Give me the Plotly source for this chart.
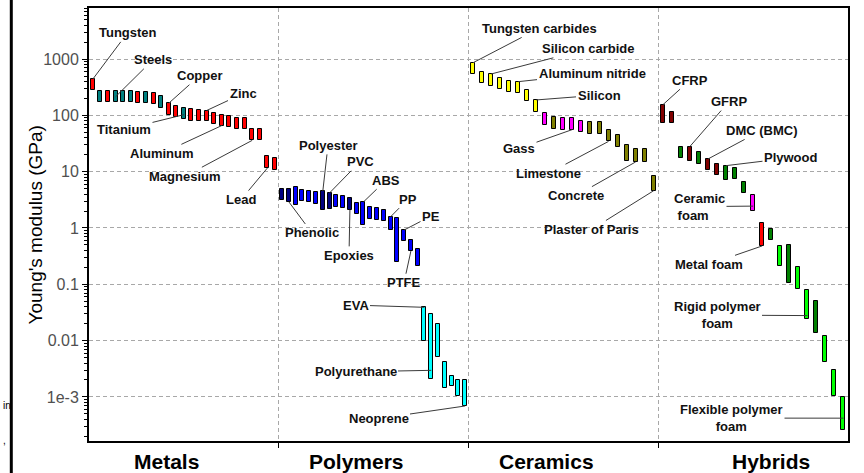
import numpy as np
import plotly.graph_objects as go

# ---------------- data ----------------
categories = ["Metals", "Polymers", "Ceramics", "Hybrids"]
tick_vals = [1e3, 1e2, 1e1, 1, 0.1, 0.01, 1e-3]
tick_text = ["1000", "100", "10", "1", "0.1", "0.01", "1e-3"]

RED, TEAL = "#ff0000", "#008080"
NAVY, BLUE, CYAN = "#000080", "#0000ff", "#00ffff"
YEL, OLIVE, MAG = "#ffff00", "#808000", "#ff00ff"
DRED, GRN, LIME = "#800000", "#008000", "#00ff00"

metal_low = [280, 170, 170, 170, 170, 170, 164, 164, 158, 138, 102, 92, 85, 80, 78, 78,
             70, 66, 63, 58, 57, 36, 36, 11.6, 10.9]
metal_high = [440, 270, 270, 270, 270, 270, 264, 264, 254, 222, 164, 148, 137, 128, 125, 122,
              110, 102, 99, 90, 89, 58, 58, 19.3, 17.4]
metal_color = [RED, TEAL, RED, TEAL, TEAL, TEAL, RED, TEAL, RED, TEAL, RED, RED, TEAL,
               RED, RED, RED, RED, RED, RED, RED, RED, RED, RED, RED, RED]

polymer_low = [3.1, 2.9, 2.6, 3.0, 2.9, 2.7, 2.1, 2.2, 2.35, 2.3, 2.1, 1.75, 1.13, 1.43, 1.39,
               1.33, 0.92, 0.244, 0.59, 0.39, 0.21,
               0.01, 0.00206, 0.0051, 0.00145, 0.00157, 0.00103, 0.00069]
polymer_high = [5.0, 5.0, 5.3, 4.8, 4.6, 4.4, 4.5, 4.2, 3.8, 3.7, 3.4, 2.8, 2.9, 2.35, 2.3,
                2.1, 1.58, 1.49, 0.92, 0.61, 0.42,
                0.039, 0.030, 0.020, 0.0041, 0.0024, 0.0020, 0.0020]
polymer_color = [NAVY, NAVY, BLUE, BLUE, BLUE, BLUE, NAVY, NAVY, BLUE, BLUE, NAVY, BLUE, BLUE,
                 BLUE, BLUE, BLUE, BLUE, BLUE, BLUE, BLUE, BLUE,
                 CYAN, CYAN, CYAN, CYAN, CYAN, CYAN, CYAN]

ceramic_low = [534, 371, 337, 290, 257, 247, 181, 117, 68, 58, 56, 56, 50, 47, 47, 34.5, 28,
               15.3, 14.9, 14.9, 4.6]
ceramic_high = [861, 597, 543, 467, 413, 397, 283, 188, 109, 93, 89, 89, 80, 76, 76, 56, 45,
                30, 25.6, 25.6, 8.3]
ceramic_color = [YEL] * 8 + [MAG, OLIVE, MAG, MAG, MAG] + [OLIVE] * 8

hybrid_low = [73, 73, 17.5, 15.3, 13.9, 10.5, 8.9, 7.1, 7.3, 4.1, 2.0, 0.48, 0.61, 0.213,
              0.104, 0.083, 0.0243, 0.0138, 0.0042, 0.00103, 0.00026]
hybrid_high = [154, 117, 28, 28, 22.3, 16.8, 13.9, 12.8, 11.6, 6.6, 3.83, 1.21, 0.97, 0.48,
               0.50, 0.199, 0.079, 0.051, 0.012, 0.0030, 0.00098]
hybrid_color = [DRED, DRED, GRN, DRED, GRN, DRED, DRED, GRN, GRN, GRN, MAG, RED, GRN, LIME,
                GRN, LIME, LIME, GRN, LIME, LIME, LIME]

groups = [
    (metal_low, metal_high, metal_color),
    (polymer_low, polymer_high, polymer_color),
    (ceramic_low, ceramic_high, ceramic_color),
    (hybrid_low, hybrid_high, hybrid_color),
]

# label text, section, bar index, position along bar (0 = bottom, 1 = top), text centre (px)
labels = [
    ("Tungsten", 0, 0, 1.0, 127.5, 31),
    ("Steels", 0, 3, 0.5, 153, 58),
    ("Copper", 0, 10, 1.0, 199.5, 74),
    ("Zinc", 0, 15, 1.0, 243, 92),
    ("Titanium", 0, 12, 0.4, 124, 128),
    ("Aluminum", 0, 17, 0.0, 162, 152),
    ("Magnesium", 0, 21, 0.0, 185, 175),
    ("Lead", 0, 23, 0.0, 241, 198.5),
    ("Polyester", 1, 6, 1.0, 328, 144),
    ("PVC", 1, 7, 1.0, 360, 160.5),
    ("ABS", 1, 12, 1.0, 386, 179),
    ("PP", 1, 16, 1.0, 408, 198),
    ("PE", 1, 18, 1.0, 431, 215),
    ("Phenolic", 1, 1, 0.0, 312, 232),
    ("Epoxies", 1, 10, 0.0, 349, 254.5),
    ("PTFE", 1, 19, 0.0, 404, 282),
    ("EVA", 1, 21, 1.0, 355.5, 304.5),
    ("Polyurethane", 1, 22, 0.136, 355.5, 371.5),
    ("Neoprene", 1, 27, 0.0, 378.5, 418.5),
    ("Tungsten carbides", 2, 0, 1.0, 539, 26.5),
    ("Silicon carbide", 2, 2, 1.0, 588, 47),
    ("Aluminum nitride", 2, 5, 1.0, 592, 72),
    ("Silicon", 2, 7, 1.0, 599, 93.5),
    ("Gass", 2, 11, 0.0, 519, 147),
    ("Limestone", 2, 15, 0.0, 548.5, 172),
    ("Concrete", 2, 18, 0.0, 576, 194.5),
    ("Plaster of Paris", 2, 20, 0.0, 591.5, 228.5),
    ("CFRP", 3, 0, 1.0, 690, 78.5),
    ("GFRP", 3, 3, 1.0, 729, 100),
    ("DMC (BMC)", 3, 5, 1.0, 761.5, 129),
    ("Plywood", 3, 7, 1.0, 791, 156.5),
    ("Ceramic<br> foam", 3, 10, 0.31, 699.5, 205.5),
    ("Metal foam", 3, 11, 0.0, 709, 263.5),
    ("Rigid polymer<br>foam", 3, 16, 0.115, 717, 314.5),
    ("Flexible polymer<br>foam", 3, 20, 0.36, 731.5, 418),
]
cat_label_px = [166, 356, 546, 771]

# ---------------- geometry ----------------
W, H = 864, 473
L, R, T, B = 89, 848, 6, 441
YTOP, YBOT = 3.907, -3.783
BAR_W = 0.021


def px_x(px):
    return (px - L) / ((R - L) / 4.0)


def px_ylog(py):
    return YTOP - (py - T) / ((B - T) / (YTOP - YBOT))


def paper_x(px):
    return (px - L) / (R - L)


def paper_y(py):
    return (B - py) / (B - T)


fig = go.Figure()
xs_all = []
for s, (lo, hi, col) in enumerate(groups):
    n = len(lo)
    xs = [s + (j + 0.5) / n for j in range(n)]
    xs_all.append(xs)
    fig.add_trace(go.Bar(
        x=xs, y=np.array(hi) - np.array(lo), base=lo, width=BAR_W,
        marker=dict(color=col, line=dict(color="#000000", width=1)),
        hoverinfo="skip", showlegend=False,
    ))

annotations = []
for text, s, j, frac, tx, ty in labels:
    lo, hi, _ = groups[s]
    ly = np.log10(lo[j]) + frac * (np.log10(hi[j]) - np.log10(lo[j]))
    annotations.append(dict(
        x=xs_all[s][j], y=ly, xref="x", yref="y",
        ax=px_x(tx), ay=px_ylog(ty), axref="x", ayref="y",
        text="<b>" + text + "</b>", showarrow=True, arrowhead=0, arrowwidth=1,
        arrowcolor="#3a3a3a", standoff=0,
        font=dict(family="Liberation Sans, Arial", size=13, color="#111111"),
        align="center" if "Ceramic" not in text else "left",
    ))

for name, px in zip(categories, cat_label_px):
    annotations.append(dict(
        x=paper_x(px), y=paper_y(462), xref="paper", yref="paper",
        text="<b>" + name + "</b>", showarrow=False, xanchor="center", yanchor="middle",
        font=dict(family="Liberation Sans, Arial", size=21, color="#000000"),
    ))

annotations.append(dict(
    x=paper_x(35), y=paper_y(224.5), xref="paper", yref="paper",
    text="Young's modulus (GPa)", textangle=-90, showarrow=False,
    xanchor="center", yanchor="middle",
    font=dict(family="Liberation Sans, Arial", size=19, color="#000000"),
))
annotations.append(dict(
    x=paper_x(0.5), y=paper_y(405), xref="paper", yref="paper", text="in",
    showarrow=False, xanchor="left", yanchor="middle",
    font=dict(family="Liberation Sans, Arial", size=10, color="#000000"),
))
annotations.append(dict(
    x=paper_x(0.5), y=paper_y(440), xref="paper", yref="paper", text=",",
    showarrow=False, xanchor="left", yanchor="middle",
    font=dict(family="Liberation Sans, Arial", size=10, color="#000000"),
))

fig.update_layout(
    width=W, height=H,
    margin=dict(l=L, r=W - R, t=T, b=H - B, pad=0),
    paper_bgcolor="#ffffff", plot_bgcolor="#ffffff",
    barmode="overlay", bargap=0,
    annotations=annotations,
    shapes=[dict(type="line", xref="paper", yref="paper",
                 x0=paper_x(11.3), x1=paper_x(11.3), y0=paper_y(H + 2), y1=paper_y(-2),
                 line=dict(color="#000000", width=3))],
    font=dict(family="Liberation Sans, Arial"),
)
fig.update_xaxes(
    range=[0, 4], tickmode="array", tickvals=[1, 2, 3], showticklabels=False,
    ticks="outside", ticklen=5, tickcolor="#000000",
    showgrid=True, gridcolor="#a8a8a8", gridwidth=1, griddash="4px,3px",
    showline=True, linecolor="#000000", linewidth=2, mirror=True, zeroline=False,
)
fig.update_yaxes(
    type="log", range=[YBOT, YTOP], tickmode="array", tickvals=tick_vals, ticktext=tick_text,
    ticks="outside", ticklen=5, tickcolor="#000000",
    tickfont=dict(family="Liberation Sans, Arial", size=16, color="#505050"),
    minor=dict(ticks="outside", ticklen=3, tickcolor="#000000", dtick="D1", showgrid=False),
    showgrid=True, gridcolor="#a8a8a8", gridwidth=1, griddash="4px,3px",
    showline=True, linecolor="#000000", linewidth=2, mirror=True, zeroline=False,
)

fig.write_html(
    "out.html",
    config={"displayModeBar": False},
    post_script="document.body.style.margin='0px';document.body.style.overflow='hidden';",
)
